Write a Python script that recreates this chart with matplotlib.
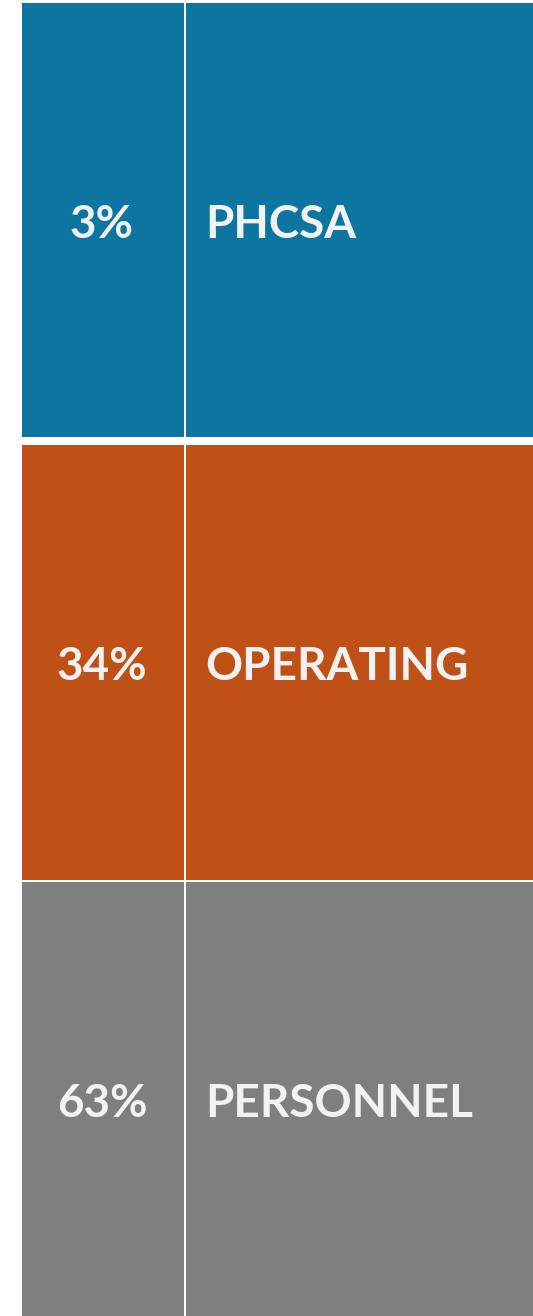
import matplotlib.pyplot as plt

categories = ["PHCSA", "OPERATING", "PERSONNEL"]
shares = ["3%", "34%", "63%"]
colors = ["#0d76a0", "#c05116", "#7f7f7f"]

# row edges in pixels (top, bottom)
row_top = [3, 445, 882]
row_bot = [437, 880, 1330]

W, H = 533, 1316
fig = plt.figure(figsize=(W / 100, H / 100), dpi=100)
ax = fig.add_axes([0, 0, 1, 1])
ax.set_xlim(0, W)
ax.set_ylim(H, 0)
ax.axis("off")

txt = "#f2f2f2"
for i, cat in enumerate(categories):
    t, b = row_top[i], row_bot[i]
    # left cell and right cell
    ax.bar(22, b - t, width=161.7, bottom=t, align="edge", color=colors[i], linewidth=0)
    ax.bar(185.7, b - t, width=W - 185.7, bottom=t, align="edge", color=colors[i], linewidth=0)
    yc = (t + min(b, H)) / 2 + 5
    ax.text(102, yc, shares[i], ha="center", va="center", color=txt,
            fontsize=33, fontweight="bold", family=["Lato", "DejaVu Sans"])
    ax.text(205, yc, cat, ha="left", va="center", color=txt,
            fontsize=33, fontweight="bold", family=["Lato", "DejaVu Sans"])

fig.savefig("out.png", dpi=100)
